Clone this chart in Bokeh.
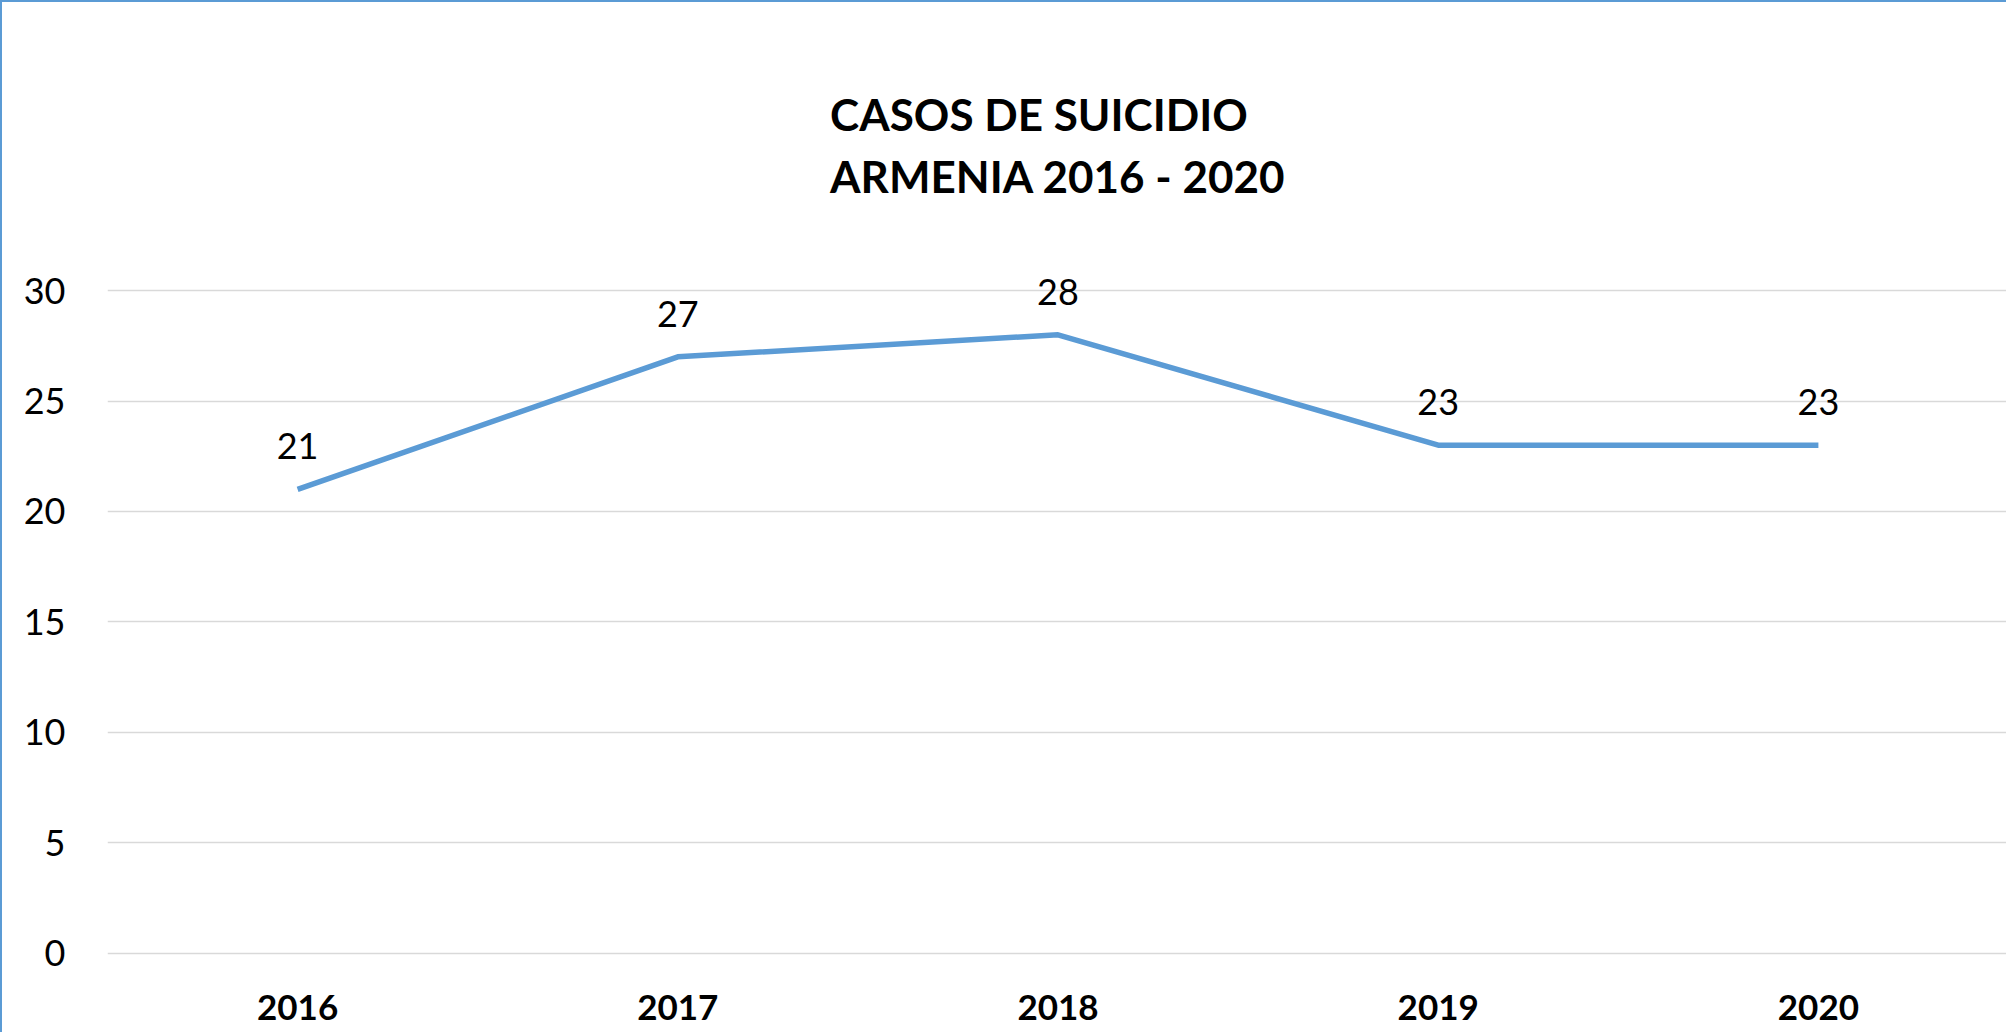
from bokeh.plotting import figure
from bokeh.models import Range1d, Title, FixedTicker, ColumnDataSource
from bokeh.core.properties import value
from bokeh.embed import file_html
from bokeh.resources import INLINE

years = ["2016", "2017", "2018", "2019", "2020"]
cases = [21, 27, 28, 23, 23]
y_ticks = [0, 5, 10, 15, 20, 25, 30]
title_lines = ["CASOS DE SUICIDIO", "ARMENIA 2016 - 2020"]

FONT = "Lato"
BLUE = "#5b9bd5"

src = ColumnDataSource(dict(x=years, y=cases, t=[str(v) for v in cases]))

p = figure(x_range=years, y_range=Range1d(-0.2, 31.5), width=2006, height=1032,
           output_backend="svg", toolbar_location=None,
           min_border_left=105, min_border_right=0, min_border_top=255, min_border_bottom=77)
p.outline_line_color = None
p.styles = {"border-left": f"2px solid {BLUE}", "border-top": f"2px solid {BLUE}"}

p.line("x", "y", source=src, line_color=BLUE, line_width=5.5)
p.text("x", "y", text="t", source=src, y_offset=-43, text_align="center",
       text_baseline="middle", text_font=value(FONT), text_font_size="36px",
       text_color="#000000")

p.xgrid.grid_line_color = None
p.ygrid.grid_line_color = "#d9d9d9"
p.ygrid.grid_line_width = 1.5
p.yaxis.ticker = FixedTicker(ticks=y_ticks)

for ax in (p.xaxis, p.yaxis):
    ax.axis_line_color = None
    ax.major_tick_line_color = None
    ax.minor_tick_line_color = None
    ax.major_tick_out = 0
    ax.major_tick_in = 0
    ax.major_label_text_font = FONT
    ax.major_label_text_color = "#000000"

p.yaxis.major_label_standoff = 42
p.yaxis.major_label_text_font_size = "36px"
p.xaxis.major_label_text_font_size = "35px"
p.xaxis.major_label_text_font_style = "bold"
p.xaxis.major_label_standoff = 37

p.add_layout(Title(text="\n".join(title_lines), align="center", offset=-18, standoff=110,
                   text_font=FONT, text_font_size="44px", text_font_style="bold",
                   text_line_height=1.2, text_color="#000000"), "above")

open("out.html", "w").write(file_html(p, INLINE))
